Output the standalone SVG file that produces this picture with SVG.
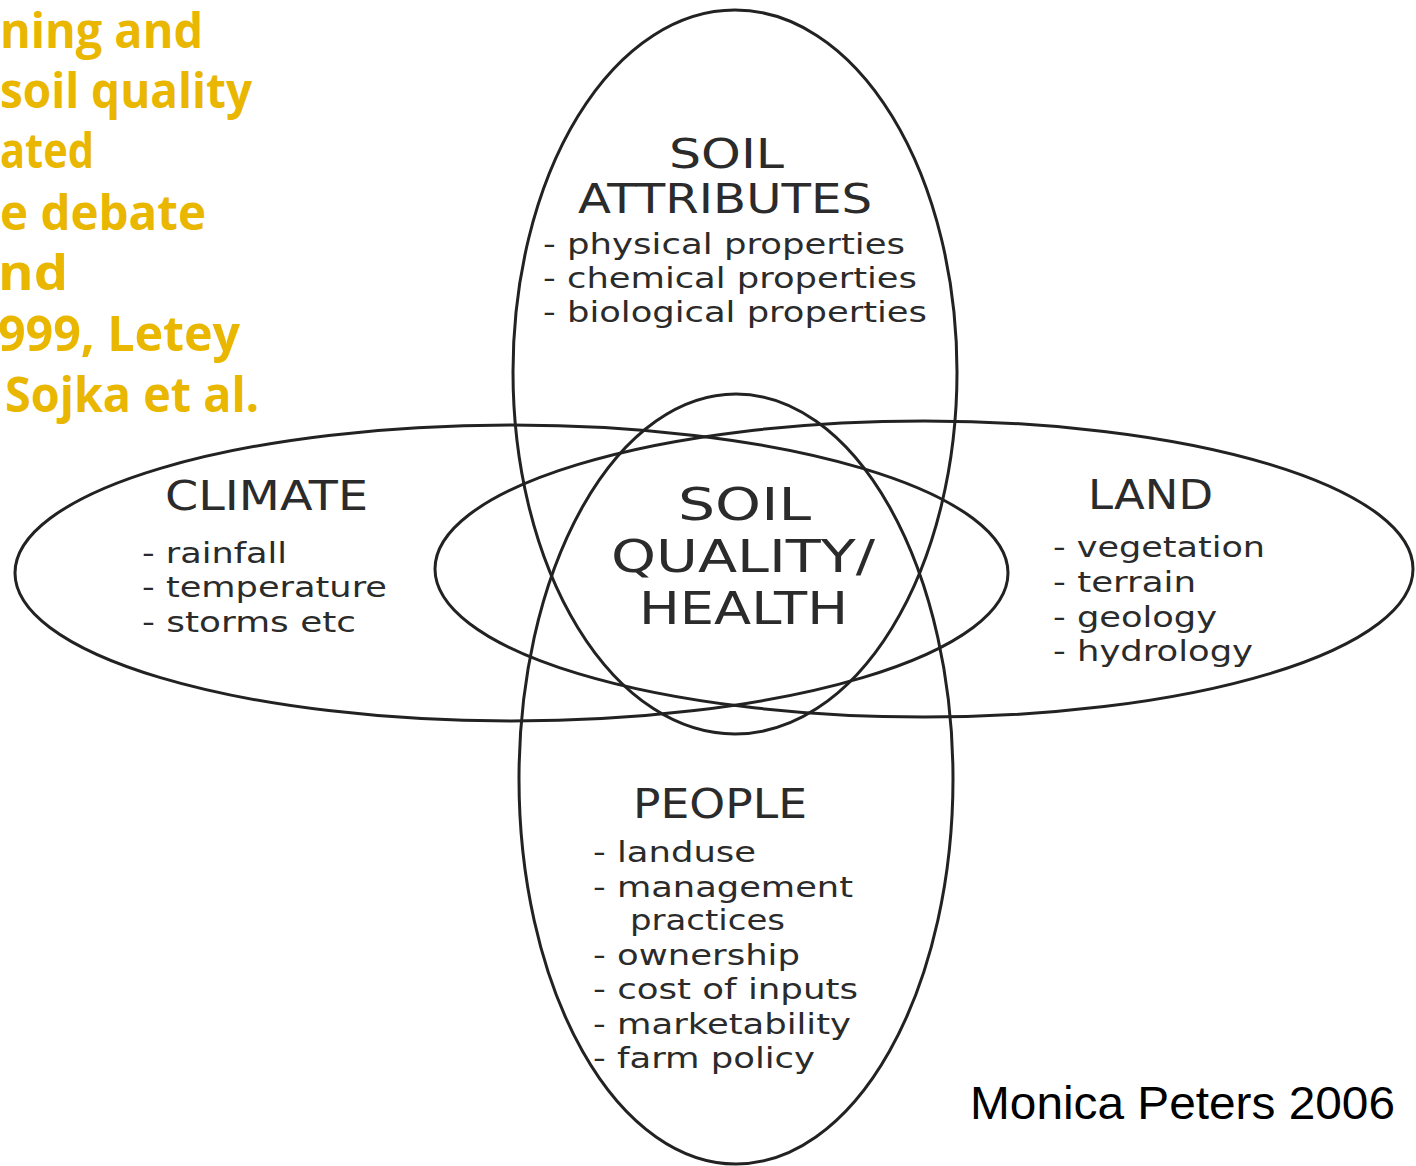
<svg xmlns="http://www.w3.org/2000/svg" width="1416" height="1166" viewBox="0 0 1416 1166">
  <style>
    .loop { fill: none; stroke: #222222; stroke-width: 3; }
    .head { font-family: "DejaVu Sans", Verdana, sans-serif; font-size: 40px; fill: #2b2b2b; }
    .core { font-family: "DejaVu Sans", Verdana, sans-serif; font-size: 44px; fill: #2b2b2b; }
    .item { font-family: "DejaVu Sans", Verdana, sans-serif; font-size: 29px; fill: #2b2b2b; }
    .note { font-family: "Open Sans", "Noto Sans", sans-serif; font-weight: bold; font-size: 48px; fill: #e9b600; }
    .credit { font-family: "Liberation Sans", Arial, sans-serif; font-size: 46px; fill: #000000; }
  </style>
  <rect width="1416" height="1166" fill="#ffffff"/>

  <!-- clipped heading text on the left -->
  <g id="side-note" class="note">
    <text x="0" y="48" textLength="203" lengthAdjust="spacingAndGlyphs">ning and</text>
    <text x="0" y="108" textLength="252" lengthAdjust="spacingAndGlyphs">soil quality</text>
    <text x="0" y="168" textLength="94" lengthAdjust="spacingAndGlyphs">ated</text>
    <text x="0" y="230" textLength="206" lengthAdjust="spacingAndGlyphs">e debate</text>
    <text x="-2" y="290" textLength="70" lengthAdjust="spacingAndGlyphs">nd</text>
    <text x="-2" y="351" textLength="242" lengthAdjust="spacingAndGlyphs">999, Letey</text>
    <text x="5" y="412" textLength="254" lengthAdjust="spacingAndGlyphs">Sojka et al.</text>
  </g>

  <!-- soil attributes: tall ellipse, top -->
  <g id="soil-attributes">
    <ellipse class="loop" cx="735" cy="372" rx="222" ry="362"/>
    <text class="head" x="669" y="168" textLength="115" lengthAdjust="spacingAndGlyphs">SOIL</text>
    <text class="head" x="578" y="213" textLength="294" lengthAdjust="spacingAndGlyphs">ATTRIBUTES</text>
    <text class="item" x="543" y="254" textLength="362" lengthAdjust="spacingAndGlyphs">- physical properties</text>
    <text class="item" x="543" y="288" textLength="374" lengthAdjust="spacingAndGlyphs">- chemical properties</text>
    <text class="item" x="543" y="322" textLength="384" lengthAdjust="spacingAndGlyphs">- biological properties</text>
  </g>

  <!-- people: tall ellipse, bottom -->
  <g id="people">
    <ellipse class="loop" cx="736" cy="779" rx="217" ry="385"/>
    <text class="head" x="633" y="818" textLength="174" lengthAdjust="spacingAndGlyphs">PEOPLE</text>
    <text class="item" x="593" y="862" textLength="163" lengthAdjust="spacingAndGlyphs">- landuse</text>
    <text class="item" x="593" y="897" textLength="260" lengthAdjust="spacingAndGlyphs">- management</text>
    <text class="item" x="630" y="930" textLength="155" lengthAdjust="spacingAndGlyphs">practices</text>
    <text class="item" x="593" y="965" textLength="207" lengthAdjust="spacingAndGlyphs">- ownership</text>
    <text class="item" x="593" y="999" textLength="265" lengthAdjust="spacingAndGlyphs">- cost of inputs</text>
    <text class="item" x="593" y="1034" textLength="258" lengthAdjust="spacingAndGlyphs">- marketability</text>
    <text class="item" x="593" y="1068" textLength="222" lengthAdjust="spacingAndGlyphs">- farm policy</text>
  </g>

  <!-- climate: wide ellipse, left -->
  <g id="climate">
    <ellipse class="loop" cx="511.5" cy="573" rx="496.5" ry="148"/>
    <text class="head" x="165" y="510" textLength="203" lengthAdjust="spacingAndGlyphs">CLIMATE</text>
    <text class="item" x="142" y="563" textLength="145" lengthAdjust="spacingAndGlyphs">- rainfall</text>
    <text class="item" x="142" y="597" textLength="245" lengthAdjust="spacingAndGlyphs">- temperature</text>
    <text class="item" x="142" y="632" textLength="214" lengthAdjust="spacingAndGlyphs">- storms etc</text>
  </g>

  <!-- land: wide ellipse, right -->
  <g id="land">
    <ellipse class="loop" cx="924" cy="569" rx="489" ry="148"/>
    <text class="head" x="1088" y="509" textLength="125" lengthAdjust="spacingAndGlyphs">LAND</text>
    <text class="item" x="1053" y="557" textLength="212" lengthAdjust="spacingAndGlyphs">- vegetation</text>
    <text class="item" x="1053" y="592" textLength="143" lengthAdjust="spacingAndGlyphs">- terrain</text>
    <text class="item" x="1053" y="627" textLength="164" lengthAdjust="spacingAndGlyphs">- geology</text>
    <text class="item" x="1053" y="661" textLength="200" lengthAdjust="spacingAndGlyphs">- hydrology</text>
  </g>

  <!-- overlap of all four -->
  <g id="soil-quality-health">
    <text class="core" x="678" y="520" textLength="133" lengthAdjust="spacingAndGlyphs">SOIL</text>
    <text class="core" x="611" y="572" textLength="264" lengthAdjust="spacingAndGlyphs">QUALITY/</text>
    <text class="core" x="639" y="624" textLength="209" lengthAdjust="spacingAndGlyphs">HEALTH</text>
  </g>

  <g id="credit">
    <text class="credit" x="970" y="1119" textLength="425" lengthAdjust="spacingAndGlyphs">Monica Peters 2006</text>
  </g>
</svg>
